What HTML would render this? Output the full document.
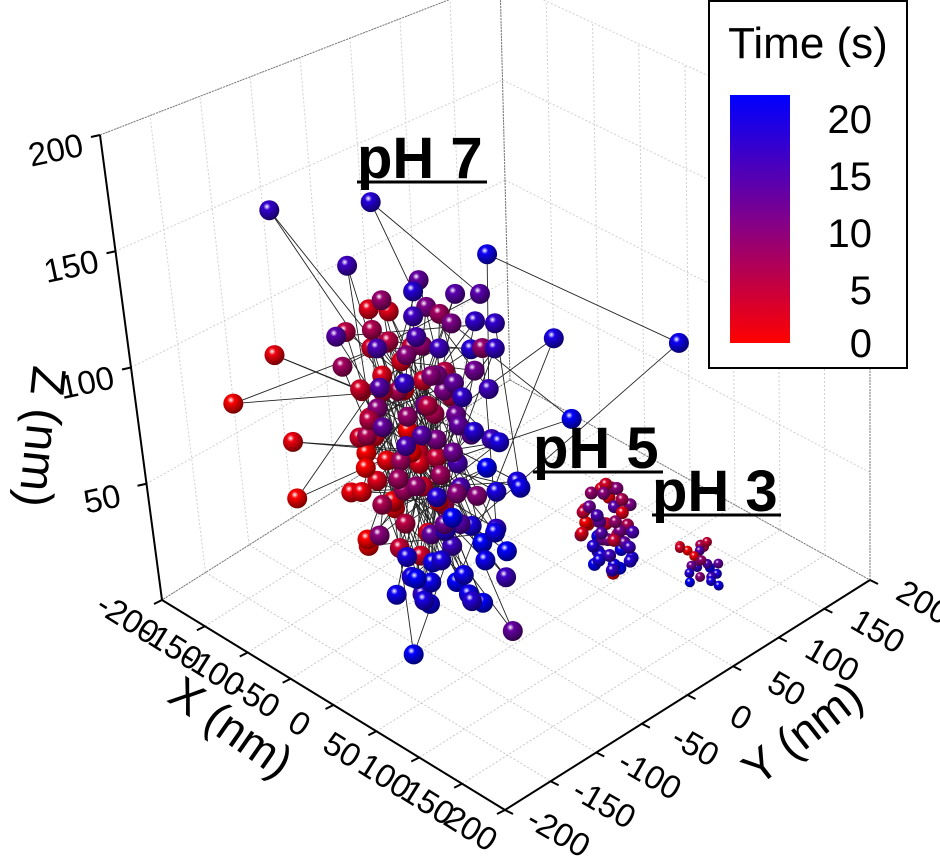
<!DOCTYPE html>
<html><head><meta charset="utf-8"><style>
html,body{margin:0;padding:0;background:#fff}
svg{display:block;font-family:"Liberation Sans",Arial,sans-serif}
</style></head><body>
<svg id="chart" width="940" height="860" viewBox="0 0 940 860" xmlns="http://www.w3.org/2000/svg">
<defs id="defs">
<linearGradient id="cbar" x1="0" y1="1" x2="0" y2="0">
<stop offset="0" stop-color="#ff0000"/><stop offset="0.5" stop-color="#80008c"/><stop offset="1" stop-color="#0000ff"/>
</linearGradient>
</defs>
<g id="grid"></g>
<g id="axes"></g>
<g id="lines"></g>
<g id="pts"></g>
<g>
<text x="357" y="178" font-size="58" font-weight="bold">pH 7</text>
<line x1="357" y1="182" x2="487" y2="182" stroke="#000" stroke-width="3"/></g>
<g>
<text x="533" y="468" font-size="58" font-weight="bold">pH 5</text>
<line x1="533" y1="472" x2="663" y2="472" stroke="#000" stroke-width="3"/></g>
<g>
<text x="652" y="511" font-size="58" font-weight="bold">pH 3</text>
<line x1="652" y1="515" x2="781" y2="515" stroke="#000" stroke-width="3"/></g>
<g>
<rect x="709" y="1" width="198" height="367" fill="#fff" stroke="#000" stroke-width="2"/>
<text x="808" y="58" font-size="44" text-anchor="middle">Time (s)</text>
<rect x="730" y="95" width="60" height="248" fill="url(#cbar)"/>
<text x="872" y="133" font-size="40" text-anchor="end">20</text>
<text x="872" y="190" font-size="40" text-anchor="end">15</text>
<text x="872" y="247" font-size="40" text-anchor="end">10</text>
<text x="872" y="304" font-size="40" text-anchor="end">5</text>
<text x="872" y="357" font-size="40" text-anchor="end">0</text>
</g>
<text font-size="48" text-anchor="middle" transform="translate(26,435) rotate(96)">Z (nm)</text>
<text font-size="46" text-anchor="middle" transform="translate(222,740) rotate(35)">X (nm)</text>
<text font-size="46" text-anchor="middle" transform="translate(812,745) rotate(-38)">Y (nm)</text>
</svg>
<script>
const xTicks=[-200,-150,-100,-50,0,50,100,150,200];
const yTicks=[-200,-150,-100,-50,0,50,100,150,200];
const zTicks=[50,100,150,200];
const zLabels=["50","100","150","200"];
// pH 7 trajectory [X,Y,Z,T]
const p7=[[-40,-50,50,3],[-10,-35,80,12],[-112,-120,45,0],[-55,-70,100,2],[-20,-20,30,18],[10,-60,60,9],[-65,-40,85,1],[-132,-158,90,0],[-35,-90,120,14],[-5,-10,110,8],[20,-30,40,16],[-70,-80,65,0],
[-25,-55,90,11],[-92,-135,177,16],[-50,-25,55,4],[0,-85,25,19],[-60,-105,110,7],[-15,0,130,13],[-42,-78,180,17],[-40,-45,135,17],[-70,-55,35,1],[25,-40,70,20],[-25,-85,45,5],[-55,-20,120,10],
[5,-15,95,15],[-12,7,147,19],[108,89,115,19],[-40,-70,15,18],[-65,-90,75,3],[-15,-55,105,9],[-30,-5,65,12],[-112,-128,109,1],[-75,-75,90,2],[0,-50,20,19],[-45,-90,50,6],[15,-15,115,16],[-40,-35,40,1],
[-60,-60,130,8],[-5,-95,85,14],[38,25,116,18],[-20,-40,10,20],[-70,-25,100,4],[10,-75,50,11],[-45,-10,80,5],[30,-55,90,17],[-55,-100,35,0],[-15,-25,135,13],[-30,-80,70,7],
[-65,-70,110,3],[0,-110,0,20],[0,-60,35,15],[-50,-40,25,2],[-35,-95,95,9],[20,-5,55,18],[-75,-95,50,1],[48,30,81,20],[-10,-35,125,10],[-20,-105,20,19],[-60,-15,70,6],[-40,-60,5,16],
[5,-50,105,12],[-55,-85,85,4],[-52,-98,154,15],[-20,-75,60,8],[25,-25,30,20],[-70,-45,120,2],[-30,-20,45,14],[0,-110,75,7],[48,-45,5,12],[-50,-65,115,5],[-35,5,100,17],[-80,-65,75,0],
[-10,-85,15,18],[15,-65,80,11],[-110,-120,70,1],[-65,-30,55,3],[-25,-60,130,15],[-45,-110,60,1],[0,-30,50,9],[-55,-55,90,6],[-30,-95,105,13],[35,-45,45,19],[-60,-95,30,0],
[-20,-50,75,10],[-40,-80,30,4],[5,-100,115,16],[-70,-70,70,2],[-50,-30,135,12],[-20,-10,20,20],[-10,-65,95,5],[-40,-40,110,8],[15,-85,65,17],[-65,-20,85,3],
[-30,-40,55,7],[0,-80,130,14],[-55,-70,45,1],[-15,-95,35,18],[-35,-15,75,11],[-75,-45,105,4],[10,-35,25,19],[-50,-95,80,6],[-25,-70,115,9],[20,-75,55,20],
[-70,-100,120,13],[0,0,120,16],[40,-20,60,19],[-65,-30,50,2],[30,-70,20,17],[-40,-100,90,5],[50,-50,30,15],
[-45,-55,65,0],[-5,-45,40,13],[-60,-80,55,2],[-30,-30,90,10],[10,-20,75,15],[-70,-90,120,5],[-15,-75,10,19],[-40,-20,120,7],[25,-60,105,16],[-55,-45,15,3],
[-25,-100,90,12],[-5,-5,45,18],[-65,-60,40,1],[-35,-65,85,8],[15,-45,10,20],[-45,-85,125,6],[-20,-30,60,14],[-70,-35,65,0],[5,-70,45,17],[-50,-75,95,4],
[-30,-55,20,19],[-10,-15,100,11],[-60,-45,100,2],[-40,-100,40,9],[30,-30,80,18],[-75,-55,55,1],[-20,-65,80,13],[0,-100,30,20],[-50,-10,90,5],[-35,-75,55,7],
[-15,-45,115,15],[-65,-85,95,3],[10,-55,15,19],[-45,-25,35,6],[-25,-40,100,10],[-55,-95,65,0],[0,-20,125,16],[-35,-50,30,12],[-70,-65,125,2],[20,-90,40,18]];
// pH 5 [X,Y,Z,T]
const p5=[[72,40,30,10],[58,28,42,4],[86,52,22,18],[64,54,48,7],[80,26,38,13],[54,46,26,19],[90,40,46,2],[66,30,20,20],[78,56,34,6],[52,36,40,1],
[84,30,28,15],[72,52,50,9],[60,50,32,3],[88,48,22,17],[70,24,48,11],[80,44,18,20],[56,32,36,0],[74,28,44,14],[64,58,26,5],[86,36,42,8],
[54,52,46,2],[78,40,20,19],[68,36,38,12],[60,40,22,16],[90,30,36,4],[72,60,30,7],[82,56,44,10],[58,56,42,1],[66,46,52,3],[78,24,26,18],
[92,44,30,15],[50,40,32,0],[72,44,14,0],[86,44,50,6],[62,34,50,8],[70,26,30,17],[76,50,24,19],[64,42,28,11],[82,34,20,16],[56,44,34,5],
[74,36,52,9],[66,54,40,13],[88,52,34,14],[60,24,34,2],[80,50,28,12],[70,34,24,18],[52,30,30,6],[84,42,36,10]];
// pH 3 [X,Y,Z,T]
const p3=[[132,80,24,10],[122,70,30,3],[142,90,18,18],[126,88,28,6],[138,70,30,1],[146,80,20,15],[120,80,26,0],[132,92,18,19],
[142,74,28,8],[124,86,18,16],[136,86,32,4],[130,72,16,20],[146,88,24,12],[120,72,30,2],[134,68,22,17],[150,84,16,19],
[128,76,22,11],[140,82,24,14],[126,92,26,5],[144,70,22,9],[136,78,30,13],[150,76,20,18]];

const NS="http://www.w3.org/2000/svg";
function proj(x,y,z){
  const u=(x+200)/400,v=(y+200)/400;
  const wL=(1-u)*(1-v),wF=u*(1-v),wR=u*v,wB=(1-u)*v;
  const sx=wL*162+wF*505+wR*870+wB*510, sy=wL*600+wF*810+wR*580+wB*380;
  const hx=wL*-62+wF*-40+wB*-10, hy=wL*-465+wF*-500+wR*-430+wB*-400;
  return [sx+hx*z/200, sy+hy*z/200];
}
function mk(tag,attrs,parent){const e=document.createElementNS(NS,tag);for(const k in attrs)e.setAttribute(k,attrs[k]);parent.appendChild(e);return e;}
function line(a,b,st,parent,w,dash){return mk('line',{x1:a[0],y1:a[1],x2:b[0],y2:b[1],stroke:st,'stroke-width':w,'stroke-dasharray':dash||'none'},parent);}
const grid=document.getElementById('grid'),axes=document.getElementById('axes');
for(const t of xTicks){const l=line(proj(t,-200,0),proj(t,200,0),'#c8c8c8',grid,1,'2,2');

}
for(const t of yTicks){const l=line(proj(-200,t,0),proj(200,t,0),'#c8c8c8',grid,1,'2,2');

}
for(const t of yTicks){const l=line(proj(-200,t,0),proj(-200,t,200),'#d0d0d0',grid,1,'2,2');

}
for(const t of zTicks){const l=line(proj(-200,-200,t),proj(-200,200,t),'#d0d0d0',grid,1,'2,2');

}
for(const t of xTicks){const l=line(proj(t,200,0),proj(t,200,200),'#d0d0d0',grid,1,'2,2');

}
for(const t of zTicks){const l=line(proj(-200,200,t),proj(200,200,t),'#d0d0d0',grid,1,'2,2');

}
line(proj(-200,200,0),proj(-200,200,200),'#777',grid,1,'2,1');
line(proj(-200,200,0),proj(-200,-200,0),'#777',grid,1,'2,1');
line(proj(-200,200,0),proj(200,200,0),'#777',grid,1,'2,1');
line(proj(200,200,0),proj(200,200,200),'#777',grid,1,'2,1');
line(proj(-200,-200,200),proj(-200,200,200),'#777',grid,1,'2,1');
const za=line(proj(-200,-200,0),proj(-200,-200,200),'#000',axes,2);


const xa=line(proj(-200,-200,0),proj(200,-200,0),'#000',axes,2);


const ya=line(proj(200,-200,0),proj(200,200,0),'#000',axes,2);


function txt(p,s,rot,parent){const e=mk('text',{'font-size':33,'text-anchor':'middle',transform:`translate(${p[0]},${p[1]}) rotate(${rot})`},parent);e.textContent=s;return e;}
for(const t of xTicks){const p=proj(t,-200,0);line(p,[p[0]-8,p[1]+4],'#000',axes,2);
const e=txt([p[0]-40,p[1]+28],String(t),32,axes);

}
for(const t of yTicks){const p=proj(200,t,0);line(p,[p[0]+8,p[1]+4],'#000',axes,2);
const e=txt([p[0]+48,p[1]+32],String(t),30,axes);

}
zTicks.forEach((t,i)=>{const p=proj(-200,-200,t);line(p,[p[0]-9,p[1]+2],'#000',axes,2);
const e=txt([p[0]-42,p[1]+26],zLabels[i],-12,axes);

});
function col(t){const f=Math.max(0,Math.min(1,t/20));
 if(f<0.5){const k=f/0.5;return [Math.round(255-127*k),0,Math.round(140*k)];}
 const k=(f-0.5)/0.5;return [Math.round(128-128*k),0,Math.round(140+115*k)];}
const defs=document.getElementById('defs');
for(let i=0;i<=20;i++){const c=col(i);const g=mk('radialGradient',{id:'s'+i,cx:'0.38',cy:'0.32',r:'0.7'},defs);
mk('stop',{offset:'0','stop-color':'#fff'},g);
mk('stop',{offset:'0.25','stop-color':`rgb(${c[0]},${c[1]},${c[2]})`},g);
mk('stop',{offset:'1','stop-color':`rgb(${Math.round(c[0]*0.45)},0,${Math.round(c[2]*0.45)})`},g);}
const lg=document.getElementById('lines');
for(let i=1;i<p7.length;i++){const a=proj(p7[i-1][0],p7[i-1][1],p7[i-1][2]),b=proj(p7[i][0],p7[i][1],p7[i][2]);
const l=line(a,b,'#222',lg,0.9);

}
const all=[];
p7.forEach(r=>all.push([r,10,'ph7-point']));
p5.forEach(r=>all.push([r,6.5,'ph5-point']));
p3.forEach(r=>all.push([r,5,'ph3-point']));
all.sort((a,b)=>(a[0][0]-a[0][1])-(b[0][0]-b[0][1]));
const pg=document.getElementById('pts');
for(const [r,rad,name] of all){const p=proj(r[0],r[1],r[2]);
const c=mk('circle',{cx:p[0].toFixed(1),cy:p[1].toFixed(1),r:rad,fill:`url(#s${Math.round(r[3])})`},pg);

}
</script>
</body></html>
